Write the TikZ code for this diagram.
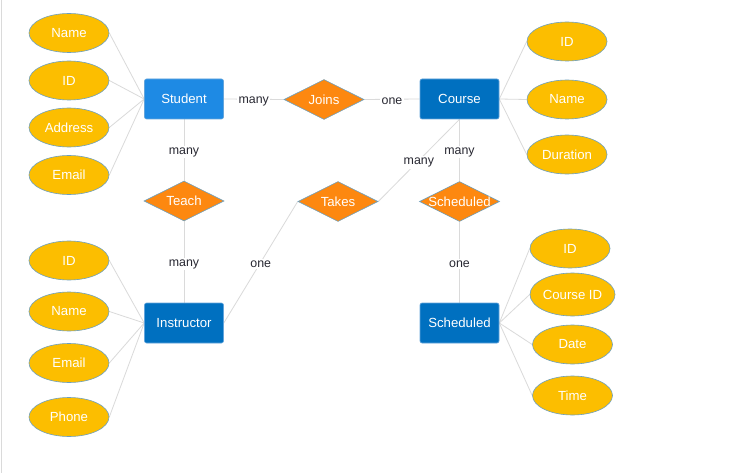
\documentclass[tikz,border=0pt]{standalone}
\usepackage{fontspec}
\setmainfont{Liberation Sans}
\usetikzlibrary{shapes.geometric,backgrounds}
\definecolor{attrfill}{RGB}{252,190,0}
\definecolor{relfill}{RGB}{253,136,16}
\definecolor{shapeborder}{RGB}{110,160,190}
\definecolor{entdark}{RGB}{0,112,192}
\definecolor{entlight}{RGB}{30,138,228}
\definecolor{entborder}{RGB}{100,165,220}
\definecolor{linkgray}{RGB}{218,218,218}
\definecolor{labelgray}{RGB}{40,40,50}
\tikzset{
  attr/.style={ellipse, draw=shapeborder, line width=0.6pt, fill=attrfill, minimum width=80pt, minimum height=39pt, inner sep=0pt, text=white, font=\fontsize{13.2}{15}\selectfont},
  rel/.style={diamond, draw=shapeborder, line width=0.6pt, fill=relfill, minimum width=80pt, minimum height=40pt, inner sep=0pt, text=white, font=\fontsize{13.2}{15}\selectfont},
  ent/.style={rectangle, rounded corners=2pt, draw=entborder, line width=0.6pt, fill=entdark, minimum width=79pt, minimum height=40pt, inner sep=0pt, text=white, font=\fontsize{13.2}{15}\selectfont},
  link/.style={draw=linkgray, line width=0.8pt},
  card/.style={fill=white, text=labelgray, inner sep=1.5pt, yshift=-2pt, font=\fontsize{12.4}{14}\selectfont},
}
\begin{document}
\begin{tikzpicture}[x=1pt,y=-1pt]
\useasboundingbox (0,0) rectangle (733,473);

% entities
\node[ent, fill=entlight] (student) at (184,99) {Student};
\node[ent] (course) at (459.5,99) {Course};
\node[ent] (instructor) at (184,323) {Instructor};
\node[ent] (schedE) at (459.5,323) {Scheduled};

% relationships
\node[rel] (joins) at (324,99.5) {\makebox[0pt]{Joins}};
\node[rel] (teach) at (184,201) {\makebox[0pt]{Teach}};
\node[rel] (takes) at (338,201.5) {\makebox[0pt]{Takes}};
\node[rel] (schedR) at (459.5,201.5) {\makebox[0pt]{Scheduled}};

% student attributes
\node[attr] (sName) at (69,33) {Name};
\node[attr] (sID) at (69,80.5) {ID};
\node[attr] (sAddr) at (69,127.5) {Address};
\node[attr] (sEmail) at (69,175) {Email};

% course attributes
\node[attr] (cID) at (567,41.5) {ID};
\node[attr] (cName) at (567,99.5) {Name};
\node[attr] (cDur) at (567,154.5) {Duration};

% instructor attributes
\node[attr] (iID) at (69,260.5) {ID};
\node[attr] (iName) at (69,311.5) {Name};
\node[attr] (iEmail) at (69,363) {Email};
\node[attr] (iPhone) at (69,417) {Phone};

% scheduled attributes
\node[attr] (scID) at (570,248.5) {ID};
\node[attr, minimum width=85pt, minimum height=43pt] (scCID) at (572.5,294.5) {Course ID};
\node[attr] (scDate) at (572.5,344.5) {Date};
\node[attr] (scTime) at (572.5,395.5) {Time};

\begin{pgfonlayer}{background}
\fill[white] (0,0) rectangle (733,473);
\draw[draw=linkgray, line width=1pt] (1,0) -- (1,473);

% attribute links
\foreach \a in {sName,sID,sAddr,sEmail}{\draw[link] (\a.east) -- (student.west);}
\foreach \a in {cID,cName,cDur}{\draw[link] (\a.west) -- (course.east);}
\foreach \a in {iID,iName,iEmail,iPhone}{\draw[link] (\a.east) -- (instructor.west);}
\foreach \a in {scID,scCID,scDate,scTime}{\draw[link] (\a.west) -- (schedE.east);}

% relationship links with cardinalities
\draw[link] (student.east) -- node[card] {many} (joins.west);
\draw[link] (joins.east) -- node[card] {one} (course.west);
\draw[link] (student.south) -- node[card] {many} (teach.north);
\draw[link] (teach.south) -- node[card] {many} (instructor.north);
\draw[link] (instructor.east) -- node[card] {one} (takes.west);
\draw[link] (takes.east) -- node[card] {many} (course.south);
\draw[link] (course.south) -- node[card] {many} (schedR.north);
\draw[link] (schedR.south) -- node[card] {one} (schedE.north);
\end{pgfonlayer}
\end{tikzpicture}
\end{document}
